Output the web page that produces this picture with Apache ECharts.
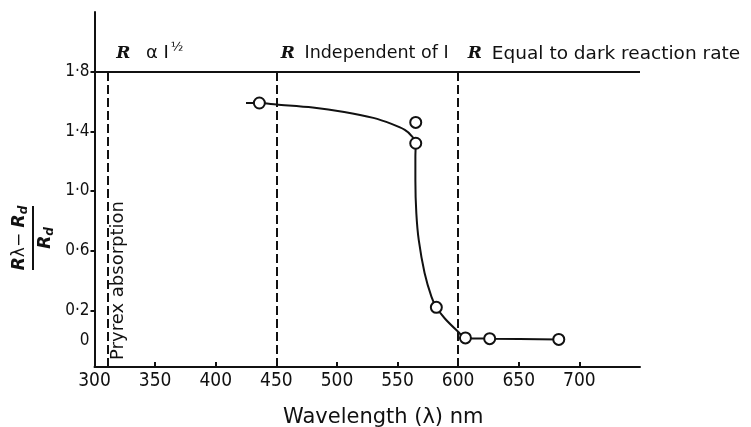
<!DOCTYPE html>
<html>
<head>
<meta charset="utf-8">
<script src="https://cdn.jsdelivr.net/npm/echarts@6/dist/echarts.min.js"></script>
<style>
  html, body { margin: 0; padding: 0; background: #fff; }
  #chart { width: 751px; height: 427px; }
</style>
</head>
<body>
<div id="chart"></div>
<script>
// measured points (circles)
const pointWavelength = [436, 565, 565, 582, 606, 626, 683];
const pointRatio = [1.59, 1.46, 1.32, 0.22, 0.015, 0.01, 0.005];

// hand drawn curve
const curveWavelength = [425, 436, 450, 480, 506, 530, 545, 556, 561.5, 565, 564.7, 564.7, 565.5, 567.5, 572.3, 578, 582, 589, 600, 606, 626, 683];
const curveRatio = [1.59, 1.59, 1.58, 1.56, 1.53, 1.49, 1.45, 1.41, 1.37, 1.32, 1.23, 1.07, 0.85, 0.67, 0.45, 0.29, 0.22, 0.145, 0.056, 0.015, 0.01, 0.005];

// region boundaries and their captions
const regionBounds = [311, 450, 600];
const regionText = ["R α I½", "R Independent of I", "R Equal to dark reaction rate"];
const regionTextX = [318, 453.7, 608];
const regionTextY = 1.92;
const topLine = 1.8;

const xLabels = [300, 350, 400, 450, 500, 550, 600, 650, 700];
const xTickMarks = [350, 400, 500, 550, 650, 700];
const yLabels = [0, 0.2, 0.6, 1.0, 1.4, 1.8];
const yTickMarks = [0.2, 0.6, 1.0, 1.4, 1.8];

const narrow = "'Liberation Sans Narrow', 'DejaVu Sans Condensed', sans-serif";
const plain = "'DejaVu Sans', 'Liberation Sans', sans-serif";
const captionSize = [18, 17.5, 18.5];

let chart = echarts.init(document.getElementById("chart"));

let captions = regionText.map((t, i) => {
  let txt = "{r|R}" + (i === 0 ? "  α I{h|½}" : t.slice(1));
  return { value: [regionTextX[i], regionTextY], label: { formatter: txt, fontSize: captionSize[i] } };
});

chart.setOption({
  animation: false,
  backgroundColor: "#fff",
  grid: { left: 94.5, right: 111, top: 12, bottom: 60, outerBoundsMode: "none" },
  xAxis: {
    type: "value",
    min: 300,
    max: 750,
    interval: 50,
    name: "Wavelength (λ) nm",
    nameLocation: "middle",
    nameGap: 40,
    nameTextStyle: { fontFamily: plain, fontSize: 21, color: "#111", padding: [0, 0, 0, 32] },
    axisLine: { onZero: false, lineStyle: { color: "#111", width: 2 } },
    axisTick: { inside: true, length: 5, customValues: xTickMarks, lineStyle: { color: "#111", width: 2 } },
    axisLabel: { customValues: xLabels, fontFamily: narrow, fontSize: 19, color: "#111", margin: 5 },
    splitLine: { show: false },
  },
  yAxis: {
    type: "value",
    min: -0.18,
    max: 2.2,
    axisLine: { onZero: false, lineStyle: { color: "#111", width: 2 } },
    axisTick: { length: 4, customValues: yTickMarks, lineStyle: { color: "#111", width: 2 } },
    axisLabel: {
      customValues: yLabels,
      fontFamily: narrow,
      fontSize: 17,
      color: "#111",
      margin: 5,
      formatter: (v) => (v === 0 ? "0" : v.toFixed(1).replace(".", "·")),
    },
    splitLine: { show: false },
  },
  graphic: [
    {
      // y axis title, a fraction turned on its side
      type: "text",
      x: 33,
      y: 238,
      rotation: Math.PI / 2,
      style: {
        text: "{i|R}{u|λ− }{i|R}{s|d}\n{bar|}\n{i|R}{s|d}",
        align: "center",
        verticalAlign: "middle",
        fill: "#111",
        rich: {
          i: { fontFamily: plain, fontStyle: "italic", fontWeight: "bold", fontSize: 17, align: "center" },
          u: { fontFamily: plain, fontSize: 17, align: "center" },
          s: { fontFamily: plain, fontStyle: "italic", fontWeight: "bold", fontSize: 12, padding: [8, 0, 0, 0], align: "center" },
          bar: { width: 64, height: 2, backgroundColor: "#111", lineHeight: 6, align: "center" },
        },
      },
    },
  ],
  series: [
    {
      // frame lines: the 1.8 line across and the dashed region bounds
      type: "line",
      data: [],
      silent: true,
      markLine: {
        symbol: "none",
        silent: true,
        label: { show: false },
        data: [
          [
            { coord: [300, topLine], lineStyle: { type: "solid", color: "#111", width: 2 } },
            { coord: [750, topLine] },
          ],
        ].concat(
          regionBounds.map((b) => [
            { coord: [b, -0.18], lineStyle: { type: [9, 4], color: "#111", width: 2 } },
            { coord: [b, topLine] },
          ])
        ),
      },
    },
    {
      name: "curve",
      type: "line",
      data: curveWavelength.map((w, i) => [w, curveRatio[i]]),
      smooth: 0.3,
      showSymbol: false,
      lineStyle: { color: "#111", width: 2 },
      z: 3,
    },
    {
      name: "points",
      type: "scatter",
      data: pointWavelength.map((w, i) => [w, pointRatio[i]]),
      symbol: "circle",
      symbolSize: 11,
      itemStyle: { color: "#fff", borderColor: "#111", borderWidth: 2, opacity: 1 },
      z: 4,
    },
    {
      // captions above the 1.8 line
      type: "scatter",
      data: captions,
      symbolSize: 0,
      silent: true,
      itemStyle: { opacity: 1 },
      label: {
        show: true,
        position: "right",
        distance: 0,
        color: "#111",
        fontFamily: plain,
        fontSize: 18,
        rich: {
          r: { fontFamily: "'DejaVu Serif', serif", fontStyle: "italic", fontWeight: "bold", fontSize: 17, padding: [0, 4, 0, 0] },
          h: { fontFamily: plain, fontSize: 13, padding: [0, 0, 12, 2] },
        },
      },
    },
    {
      type: "scatter",
      data: [[319.5, 0.4]],
      symbolSize: 0,
      silent: true,
      itemStyle: { opacity: 1 },
      label: {
        show: true,
        position: "inside",
        rotate: 90,
        formatter: "Pryrex absorption",
        color: "#111",
        fontFamily: plain,
        fontSize: 18,
      },
    },
  ],
});
</script>
</body>
</html>
